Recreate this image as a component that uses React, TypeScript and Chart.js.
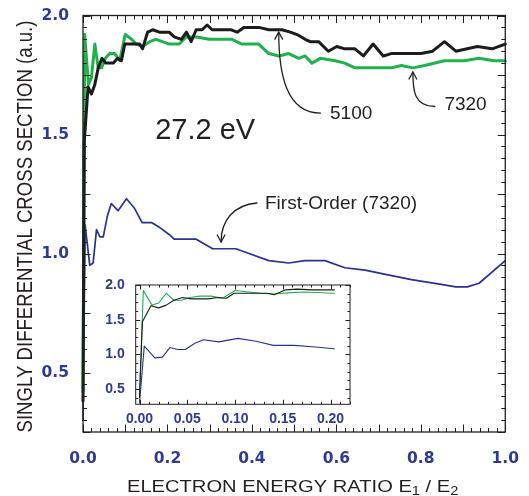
import React, { useEffect, useRef } from "react";
import { Chart, registerables } from "chart.js";
Chart.register(...registerables);

// ---- data ----
const blackX = [0, 0.003, 0.012, 0.02, 0.028, 0.036, 0.045, 0.054, 0.063, 0.072, 0.082, 0.091, 0.099, 0.11, 0.134, 0.141, 0.153, 0.165, 0.181, 0.204, 0.216, 0.233, 0.245, 0.256, 0.268, 0.282, 0.294, 0.306, 0.329, 0.351, 0.365, 0.381, 0.416, 0.44, 0.471, 0.491, 0.507, 0.526, 0.538, 0.558, 0.581, 0.601, 0.62, 0.644, 0.664, 0.687, 0.711, 0.73, 0.8, 0.828, 0.856, 0.883, 0.934, 0.969, 1.0];
const blackY = [0.38, 1.47, 1.7, 1.67, 1.71, 1.78, 1.82, 1.8, 1.8, 1.8, 1.82, 1.81, 1.88, 1.88, 1.88, 1.86, 1.93, 1.94, 1.93, 1.93, 1.91, 1.9, 1.93, 1.89, 1.94, 1.94, 1.96, 1.94, 1.94, 1.94, 1.93, 1.95, 1.95, 1.94, 1.94, 1.93, 1.92, 1.9, 1.89, 1.89, 1.85, 1.87, 1.86, 1.86, 1.83, 1.88, 1.83, 1.84, 1.84, 1.85, 1.89, 1.85, 1.87, 1.86, 1.88];

const greenX = [0, 0.004, 0.013, 0.02, 0.028, 0.036, 0.044, 0.053, 0.063, 0.075, 0.087, 0.1, 0.115, 0.126, 0.141, 0.158, 0.173, 0.204, 0.228, 0.244, 0.268, 0.299, 0.353, 0.376, 0.416, 0.44, 0.464, 0.487, 0.511, 0.526, 0.542, 0.562, 0.597, 0.62, 0.644, 0.73, 0.754, 0.781, 0.809, 0.856, 0.903, 0.938, 0.973, 1.0];
const greenY = [0.42, 1.92, 1.71, 1.74, 1.88, 1.78, 1.78, 1.82, 1.84, 1.84, 1.81, 1.92, 1.9, 1.88, 1.87, 1.89, 1.9, 1.88, 1.88, 1.91, 1.91, 1.9, 1.9, 1.88, 1.88, 1.84, 1.83, 1.84, 1.82, 1.83, 1.8, 1.82, 1.81, 1.8, 1.78, 1.78, 1.79, 1.78, 1.79, 1.81, 1.81, 1.82, 1.81, 1.81];

const blueX = [0, 0.005, 0.016, 0.024, 0.032, 0.04, 0.048, 0.058, 0.067, 0.083, 0.103, 0.122, 0.14, 0.162, 0.181, 0.204, 0.216, 0.268, 0.307, 0.362, 0.393, 0.44, 0.487, 0.526, 0.573, 0.62, 0.668, 0.722, 0.778, 0.848, 0.883, 0.91, 0.938, 1.0];
const blueY = [0.3, 1.12, 0.95, 0.96, 1.1, 1.07, 1.07, 1.16, 1.21, 1.18, 1.23, 1.19, 1.13, 1.13, 1.11, 1.08, 1.06, 1.06, 1.02, 1.02, 1.0, 0.97, 0.96, 0.97, 0.97, 0.94, 0.93, 0.91, 0.89, 0.87, 0.86, 0.86, 0.875, 0.97];

const mainXTicks = [0, 0.2, 0.4, 0.6, 0.8, 1.0];
const mainYTicks = [0.5, 1.0, 1.5, 2.0];
const insetXTicks = [0, 0.05, 0.1, 0.15, 0.2];
const insetYTicks = [0.5, 1.0, 1.5, 2.0];
const insetXLimit = 0.205;

const yTitle = "SINGLY DIFFERENTIAL CROSS SECTION (a.u.)";
const xTitleParts = ["ELECTRON ENERGY RATIO E", "1", " / E", "2"];
const energyLabel = "27.2 eV";
const label5100 = "5100";
const label7320 = "7320";
const labelFirst = "First-Order (7320)";

// ---- styles ----
const BLUE_TXT = "#2f3a93";
const INK = "#231f20";
const BLACK = "#1b1b1b";
const GREEN = "#1fb24c";
const BLUE = "#2b3192";
const SANS = '"Liberation Sans", Arial, Helvetica, sans-serif';

const pts = (xs: number[], ys: number[], lim = Infinity) =>
  xs.map((x, i) => ({ x, y: ys[i] })).filter((p) => p.x <= lim);

function frameTicks(cfg: {
  xMinor: number; xMajor: number; yMinor: number; yMajor: number;
  minorLen: number; majorLen: number; frameWidth: number;
}) {
  return {
    id: "frameTicks",
    afterDraw(chart: any) {
      const { ctx, chartArea: a, scales } = chart;
      const x = scales.x, y = scales.y;
      ctx.save();
      ctx.strokeStyle = INK;
      ctx.lineWidth = 1;
      const isMajor = (v: number, m: number) => Math.abs(v / m - Math.round(v / m)) < 1e-6;
      ctx.beginPath();
      for (let i = Math.ceil(x.min / cfg.xMinor - 1e-9); i * cfg.xMinor <= x.max + 1e-9; i++) {
        const v = i * cfg.xMinor;
        const px = Math.round(x.getPixelForValue(v)) + 0.5;
        const len = isMajor(v, cfg.xMajor) ? cfg.majorLen : cfg.minorLen;
        ctx.moveTo(px, a.bottom); ctx.lineTo(px, a.bottom - len);
        ctx.moveTo(px, a.top); ctx.lineTo(px, a.top + len);
      }
      for (let i = Math.ceil(y.min / cfg.yMinor - 1e-9); i * cfg.yMinor <= y.max + 1e-9; i++) {
        const v = i * cfg.yMinor;
        const py = Math.round(y.getPixelForValue(v)) + 0.5;
        const len = isMajor(v, cfg.yMajor) ? cfg.majorLen : cfg.minorLen;
        ctx.moveTo(a.left, py); ctx.lineTo(a.left + len, py);
        ctx.moveTo(a.right, py); ctx.lineTo(a.right - len, py);
      }
      ctx.stroke();
      ctx.lineWidth = cfg.frameWidth;
      ctx.strokeRect(a.left, a.top, a.right - a.left, a.bottom - a.top);
      ctx.restore();
    },
  };
}

const annotationPlugin = {
  id: "annotations",
  afterDraw(chart: any) {
    const { ctx, scales } = chart;
    const X = (v: number) => scales.x.getPixelForValue(v);
    const Y = (v: number) => scales.y.getPixelForValue(v);
    ctx.save();
    ctx.fillStyle = INK;
    ctx.strokeStyle = INK;
    ctx.textBaseline = "alphabetic";

    // texts
    const texts = [
      { t: energyLabel, x: 0.2894, y: 1.48, size: 29, align: "center" },
      { t: label5100, x: 0.585, y: 1.5639, size: 19, align: "left" },
      { t: label7320, x: 0.8558, y: 1.603, size: 19, align: "left" },
      { t: labelFirst, x: 0.431, y: 1.1857, size: 19, align: "left" },
    ];
    for (const tx of texts) {
      ctx.font = `${tx.size}px ${SANS}`;
      ctx.textAlign = tx.align;
      ctx.fillText(tx.t, X(tx.x), Y(tx.y));
    }

    // arrows (cubic curves in data units)
    const arrows = [
      [[0.5624, 1.59], [0.4824, 1.59], [0.4635, 1.75], [0.4635, 1.93]],
      [[0.833, 1.6176], [0.7835, 1.6176], [0.7812, 1.687], [0.7812, 1.7626]],
      [[0.4118, 1.2122], [0.3576, 1.2038], [0.327, 1.1408], [0.327, 1.0483]],
    ];
    ctx.lineWidth = 1.3;
    ctx.lineCap = "round";
    ctx.lineJoin = "round";
    for (const ar of arrows) {
      const p = ar.map(([a, b]) => [X(a), Y(b)]);
      ctx.beginPath();
      ctx.moveTo(p[0][0], p[0][1]);
      ctx.bezierCurveTo(p[1][0], p[1][1], p[2][0], p[2][1], p[3][0], p[3][1]);
      ctx.stroke();
      const ang = Math.atan2(p[3][1] - p[2][1], p[3][0] - p[2][0]);
      const L = 8, h = 0.5;
      ctx.beginPath();
      ctx.moveTo(p[3][0] - L * Math.cos(ang - h), p[3][1] - L * Math.sin(ang - h));
      ctx.lineTo(p[3][0], p[3][1]);
      ctx.lineTo(p[3][0] - L * Math.cos(ang + h), p[3][1] - L * Math.sin(ang + h));
      ctx.stroke();
    }

    // axis titles
    const a = chart.chartArea;
    const mainF = `16.5px ${SANS}`;
    const subF = `12px ${SANS}`;
    const segs = [
      { t: xTitleParts[0], f: mainF, dy: 0 },
      { t: xTitleParts[1], f: subF, dy: 3 },
      { t: xTitleParts[2], f: mainF, dy: 0 },
      { t: xTitleParts[3], f: subF, dy: 3 },
    ];
    let w = 0;
    for (const s of segs) { ctx.font = s.f; w += ctx.measureText(s.t).width; }
    ctx.save();
    ctx.translate((a.left + a.right) / 2 - 1.5, 491.5);
    ctx.scale(1.22, 1);
    ctx.textAlign = "left";
    let cx = -w / 2;
    for (const s of segs) {
      ctx.font = s.f;
      ctx.fillText(s.t, cx, s.dy);
      cx += ctx.measureText(s.t).width;
    }
    ctx.restore();

    ctx.save();
    ctx.translate(31.5, 226.5);
    ctx.scale(1.18, 1);
    ctx.rotate(-Math.PI / 2);
    ctx.font = `18.6px ${SANS}`;
    ctx.textAlign = "center";
    ctx.fillText(yTitle, 0, 0);
    ctx.restore();

    ctx.restore();
  },
};

function lineDs(data: any[], color: string, width: number) {
  return {
    data, borderColor: color, borderWidth: width, pointRadius: 0, fill: false,
    tension: 0, clip: false as any, borderJoinStyle: "round" as const, borderCapStyle: "round" as const,
  };
}

export default function App() {
  const mainRef = useRef<HTMLCanvasElement>(null);
  const insetRef = useRef<HTMLCanvasElement>(null);

  useEffect(() => {
    const main = new Chart(mainRef.current!, {
      type: "line",
      data: {
        datasets: [
          lineDs(pts(blackX, blackY), BLACK, 3),
          lineDs(pts(greenX, greenY), GREEN, 3),
          lineDs(pts(blueX, blueY), BLUE, 1.7),
        ],
      },
      options: {
        animation: false,
        responsive: false,
        events: [],
        layout: { padding: { left: 0, right: 21, top: 15.5, bottom: 0 } },
        plugins: { legend: { display: false }, tooltip: { enabled: false } },
        scales: {
          x: {
            type: "linear", min: 0, max: 1,
            grid: { display: false }, border: { display: false },
            afterBuildTicks: (s: any) => { s.ticks = mainXTicks.map((v) => ({ value: v })); },
            afterFit: (s: any) => { s.height = 64; },
            ticks: {
              autoSkip: false, maxRotation: 0, padding: 10, color: BLUE_TXT,
              font: { family: '"DejaVu Sans", sans-serif', weight: "bold", size: 15.5 },
              callback: (v: any) => Number(v).toFixed(1),
            },
          },
          y: {
            type: "linear", min: 0.25, max: 2.0,
            grid: { display: false }, border: { display: false },
            afterBuildTicks: (s: any) => { s.ticks = mainYTicks.map((v) => ({ value: v })); },
            afterFit: (s: any) => { s.width = 83; },
            ticks: {
              autoSkip: false, padding: 6, color: BLUE_TXT,
              font: { family: '"DejaVu Sans", sans-serif', weight: "bold", size: 15.5 },
              callback: (v: any) => Number(v).toFixed(1),
            },
          },
        },
      } as any,
      plugins: [
        frameTicks({ xMinor: 0.02, xMajor: 0.1, yMinor: 0.05, yMajor: 0.25, minorLen: 4, majorLen: 7.5, frameWidth: 1.3 }),
        annotationPlugin,
      ],
    });

    const inset = new Chart(insetRef.current!, {
      type: "line",
      data: {
        datasets: [
          lineDs(pts(blackX, blackY, insetXLimit), BLACK, 1.1),
          lineDs(pts(greenX, greenY, insetXLimit), GREEN, 1.1),
          lineDs(pts(blueX, blueY, insetXLimit), BLUE, 1.1),
        ],
      },
      options: {
        animation: false,
        responsive: false,
        events: [],
        layout: { padding: { left: 0, right: 5, top: 8.3, bottom: 0 } },
        plugins: { legend: { display: false }, tooltip: { enabled: false } },
        scales: {
          x: {
            type: "linear", min: -0.004, max: 0.2204,
            grid: { display: false }, border: { display: false },
            afterBuildTicks: (s: any) => { s.ticks = insetXTicks.map((v) => ({ value: v })); },
            afterFit: (s: any) => { s.height = 20.7; },
            ticks: {
              autoSkip: false, maxRotation: 0, padding: 0, color: BLUE_TXT,
              font: { family: SANS, weight: "bold", size: 14, lineHeight: 1 },
              callback: (v: any) => Number(v).toFixed(2),
            },
          },
          y: {
            type: "linear", min: 0.28, max: 2.0,
            grid: { display: false }, border: { display: false },
            afterBuildTicks: (s: any) => { s.ticks = insetYTicks.map((v) => ({ value: v })); },
            afterFit: (s: any) => { s.width = 30.7; },
            ticks: {
              autoSkip: false, padding: 3, color: BLUE_TXT,
              font: { family: SANS, weight: "bold", size: 14, lineHeight: 1 },
              callback: (v: any) => Number(v).toFixed(1),
            },
          },
        },
      } as any,
      plugins: [
        frameTicks({ xMinor: 0.01, xMajor: 0.05, yMinor: 0.125, yMajor: 0.5, minorLen: 2.5, majorLen: 4.5, frameWidth: 1 }),
      ],
    });

    return () => { main.destroy(); inset.destroy(); };
  }, []);

  return (
    <div style={{ position: "absolute", left: 0, top: 0, width: 529, height: 496, background: "#fff" }}>
      <canvas ref={mainRef} width={529} height={496} style={{ position: "absolute", left: 0, top: 0, width: 529, height: 496 }} />
      <canvas ref={insetRef} width={250} height={150} style={{ position: "absolute", left: 105, top: 275, width: 250, height: 150 }} />
    </div>
  );
}
